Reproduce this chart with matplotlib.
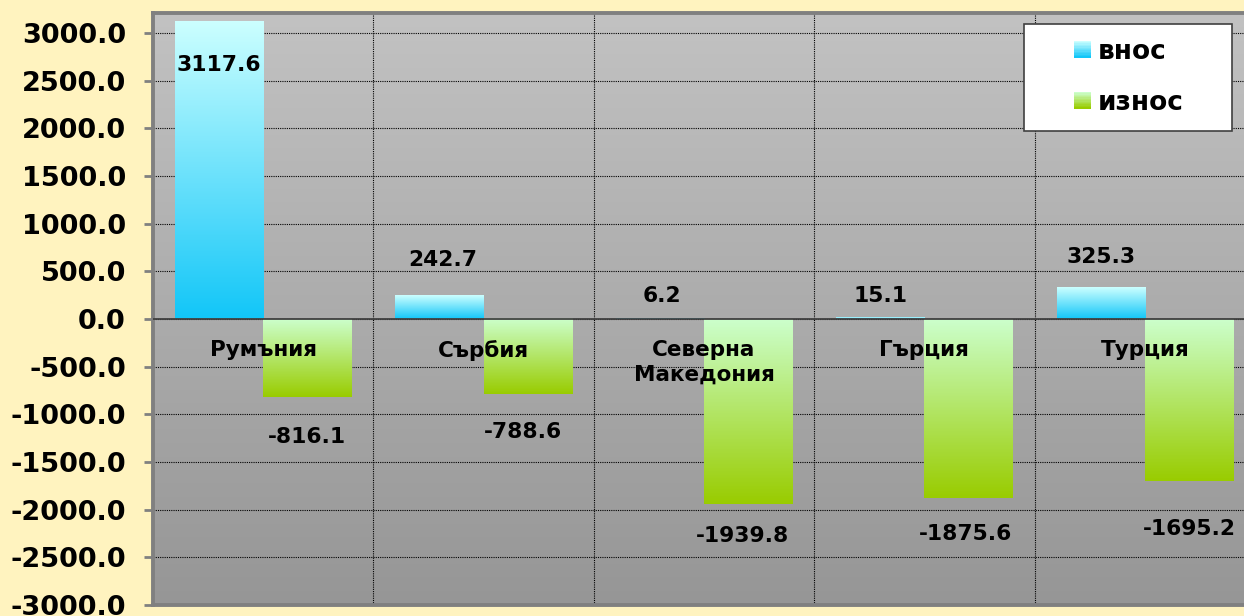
import numpy as np
import matplotlib
matplotlib.use("Agg")
import matplotlib.pyplot as plt
from matplotlib.colors import LinearSegmentedColormap
from matplotlib.patches import Rectangle
from matplotlib.legend_handler import HandlerBase

categories = ["Румъния", "Сърбия", "Северна\nМакедония", "Гърция", "Турция"]
vnos = [3117.6, 242.7, 6.2, 15.1, 325.3]
iznos = [-816.1, -788.6, -1939.8, -1875.6, -1695.2]
series_names = ["внос", "износ"]
yticks = np.arange(-3000, 3001, 500)

# отмествания на етикетите (в пиксели) - ръчно разположени в оригинала
vnos_lbl_dy = [-43, 36, 22, 22, 31]
vnos_lbl_dx = [0, 3, 2, 0, 0]
iznos_lbl_dy = [-40, -38, -32, -36, -48]
iznos_lbl_dx = [0, -5, -6, -3, 0]

BG = "#FFF3BF"
blue_cm = LinearSegmentedColormap.from_list("b", ["#12C6F8", "#CCFFFF"])
green_cm = LinearSegmentedColormap.from_list("g", ["#99CC00", "#CCFFCC"])
bg_cm = LinearSegmentedColormap.from_list("bg", ["#969696", "#C2C2C2"])


class GradHandler(HandlerBase):
    def __init__(self, cmap):
        super().__init__()
        self.cmap = cmap

    def create_artists(self, legend, orig, xd, yd, w, h, fs, trans):
        side = h
        x0 = w - side - xd
        y0 = -yd + (h - side) / 2
        n = 12
        arts = []
        for k in range(n):
            c = self.cmap(1 - k / (n - 1))
            arts.append(Rectangle((x0, y0 + side * (n - 1 - k) / n), side, side / n + 0.3,
                                  facecolor=c, edgecolor="none", transform=trans))
        return arts


fig = plt.figure(figsize=(12.44, 6.16), dpi=100, facecolor=BG)
ax = fig.add_axes([153 / 1244, 1 - 605 / 616, 1102 / 1244, 592 / 616])

x = np.arange(len(categories))
w = 0.4
b1 = ax.bar(x - w / 2, vnos, w, color="none", edgecolor="none", label=series_names[0])
b2 = ax.bar(x + w / 2, iznos, w, color="none", edgecolor="none", label=series_names[1])

ax.set_xlim(-0.5, len(categories) - 0.5)
ax.set_ylim(-3000, 3210)

# фон на графиката - градиент
ax.imshow(np.linspace(0, 1, 256).reshape(-1, 1)[::-1], extent=[-0.5, len(categories) - 0.5, -3000, 3210],
          aspect="auto", cmap=bg_cm, zorder=0, origin="upper")

grad = np.linspace(1, 0, 256).reshape(-1, 1)
for bars, cm in ((b1, blue_cm), (b2, green_cm)):
    for r in bars:
        x0, y0, ww, hh = r.get_x(), r.get_y(), r.get_width(), r.get_height()
        lo, hi = min(y0, y0 + hh), max(y0, y0 + hh)
        ax.imshow(grad, extent=[x0, x0 + ww, lo, hi], aspect="auto", cmap=cm, zorder=2,
                  origin="upper", vmin=0, vmax=1)

ax.set_xlim(-0.5, len(categories) - 0.5)
ax.set_ylim(-3000, 3210)

ax.set_yticks(yticks)
ax.set_yticklabels([f"{v:.1f}" for v in yticks], fontsize=19.5, fontweight="bold")
ax.set_xticks([])
ax.set_xticks(np.arange(0.5, len(categories) - 0.5, 1), minor=True)
ax.tick_params(axis="x", which="both", length=0)
ax.tick_params(axis="y", direction="out", length=6.5, width=2, color="#808080", pad=13)
ax.grid(axis="y", which="major", color="black", linestyle=(0, (1, 1)), linewidth=0.8, zorder=1)
ax.grid(axis="x", which="minor", color="black", linestyle=(0, (1, 1)), linewidth=0.8, zorder=1)
ax.set_axisbelow(True)
for s in ("left", "top", "bottom"):
    ax.spines[s].set_color("#808080")
    ax.spines[s].set_linewidth(2.8)
ax.spines["right"].set_visible(False)
ax.axhline(0, color="#404040", linewidth=1.3, zorder=3)

lbl_font = dict(fontsize=15.7, fontweight="bold", color="black", ha="center", va="center", zorder=5)
for i, r in enumerate(b1):
    xc = r.get_x() + r.get_width() / 2
    ax.annotate(f"{vnos[i]:.1f}", (xc, vnos[i]), xytext=(vnos_lbl_dx[i] * 0.72, vnos_lbl_dy[i] * 0.72),
                textcoords="offset points", **lbl_font)
for i, r in enumerate(b2):
    xc = r.get_x() + r.get_width() / 2
    ax.annotate(f"{iznos[i]:.1f}", (xc, iznos[i]), xytext=(iznos_lbl_dx[i] * 0.72, iznos_lbl_dy[i] * 0.72),
                textcoords="offset points", **lbl_font)

for i, name in enumerate(categories):
    ax.annotate(name, (x[i], 0), xytext=(0, -15), textcoords="offset points",
                fontsize=15.5, fontweight="bold", ha="center", va="top", linespacing=1.3, zorder=5)

leg = ax.legend(handles=[b1, b2], labels=series_names, loc="upper left",
                bbox_to_anchor=(1024 / 1244, 1 - 128 / 616, 208 / 1244, 104 / 616),
                bbox_transform=fig.transFigure, mode="expand", borderaxespad=0,
                prop={"weight": "bold", "size": 19}, handlelength=1.97, handleheight=0.6,
                handletextpad=0.27, labelspacing=0.95, borderpad=0.56, fancybox=False,
                framealpha=1, edgecolor="#404040",
                handler_map={b1: GradHandler(blue_cm), b2: GradHandler(green_cm)})
leg.get_frame().set_linewidth(1.2)
leg.set_zorder(10)

fig.savefig("out.png", dpi=100, facecolor=BG)
